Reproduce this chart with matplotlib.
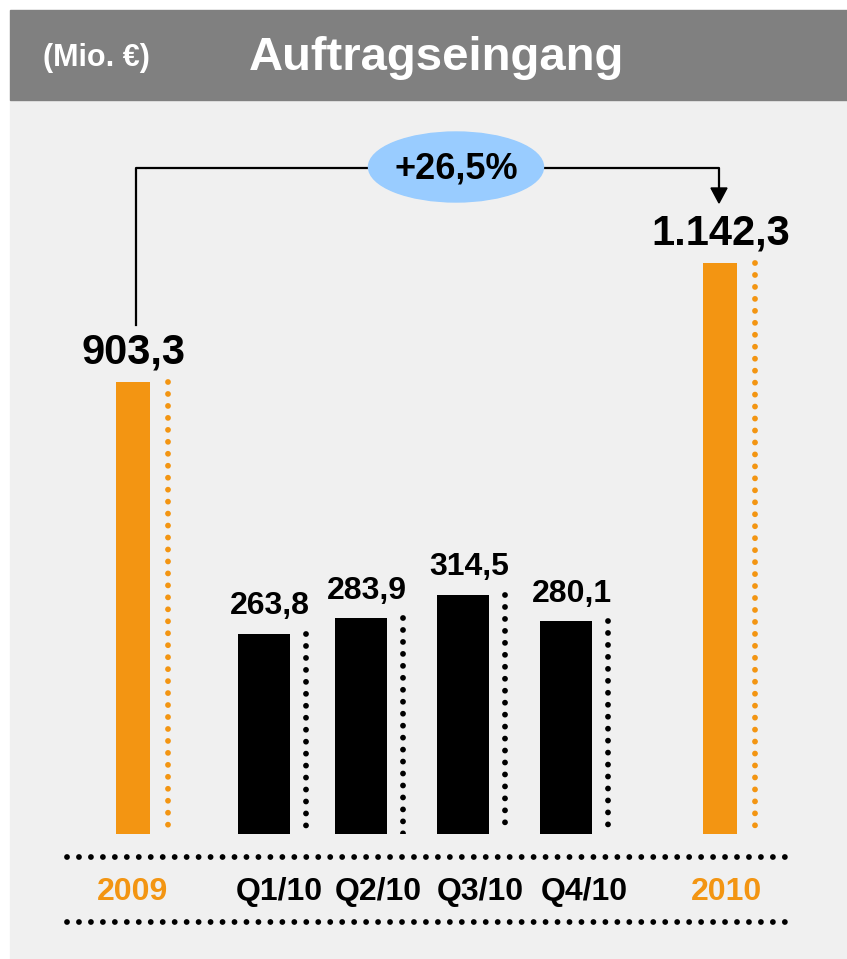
import matplotlib
matplotlib.use("Agg")
import matplotlib.pyplot as plt
from matplotlib.patches import Rectangle, Ellipse, Polygon

plt.rcParams['font.family'] = ['Liberation Sans', 'DejaVu Sans']

# ---- data ----
annual_labels = ["2009", "2010"]
annual_values = [903.3, 1142.3]
annual_texts = ["903,3", "1.142,3"]
quarter_labels = ["Q1/10", "Q2/10", "Q3/10", "Q4/10"]
quarter_values = [263.8, 283.9, 314.5, 280.1]
quarter_texts = ["263,8", "283,9", "314,5", "280,1"]
growth_text = "+26,5%"
title = "Auftragseingang"
unit = "(Mio. €)"

# ---- layout (pixel frame) ----
W, H = 847, 959
annual_x = [132.5, 720]
annual_w = 34
quarter_x = [264, 361, 463, 566]
quarter_w = 52
annual_dot_off = 35
quarter_dot_off = 42
annual_label_x = [133, 727]
quarter_label_x = [279, 378, 480, 584]
base_px = 834
top_px = 100
px_per_unit_annual = 0.5
px_per_unit_quarter = 0.76

ORANGE = '#f39512'
BG = '#f0f0f0'
HEADER = '#808080'

fig = plt.figure(figsize=(W / 100, H / 100), dpi=100)
fig.patch.set_facecolor('white')

bg = fig.add_axes([0, 0, 1, 1])
bg.set_xlim(0, W)
bg.set_ylim(H, 0)
bg.axis('off')
bg.add_patch(Rectangle((10, 100), W - 10, H - 100, color=BG, zorder=0))
bg.add_patch(Rectangle((10, 10), W - 10, 90, color=HEADER, zorder=0))
bg.text(96, 58, unit, color='white', fontsize=22, fontweight='bold',
        ha='center', va='center')
bg.text(437, 58, title, color='white', fontsize=34, fontweight='bold',
        ha='center', va='center')

ax_rect = [0, (H - base_px) / H, 1, (base_px - top_px) / H]
ax_a = fig.add_axes(ax_rect)
ax_q = fig.add_axes(ax_rect)
for ax, s in ((ax_a, px_per_unit_annual), (ax_q, px_per_unit_quarter)):
    ax.set_xlim(0, W)
    ax.set_ylim(0, (base_px - top_px) / s)
    ax.axis('off')
    ax.patch.set_alpha(0)

DOT_LW = 4.2
dot_ls = (0, (0.001, 2.05))

# annual bars
ax_a.bar(annual_x, annual_values, width=annual_w, color=ORANGE, zorder=3)
for x, v, t in zip(annual_x, annual_values, annual_texts):
    ax_a.plot([x + annual_dot_off, x + annual_dot_off], [v, 0], color=ORANGE,
              lw=DOT_LW, ls=dot_ls, dash_capstyle='round', zorder=3)
    ax_a.annotate(t, (x + 1, v), xytext=(0, 7), textcoords='offset points',
                  ha='center', va='bottom', fontsize=30, fontweight='bold')

# quarter bars
ax_q.bar(quarter_x, quarter_values, width=quarter_w, color='black', zorder=3)
for x, v, t in zip(quarter_x, quarter_values, quarter_texts):
    ax_q.plot([x + quarter_dot_off, x + quarter_dot_off], [v, 0], color='black',
              lw=DOT_LW, ls=dot_ls, dash_capstyle='round', zorder=3)
    ax_q.annotate(t, (x + 6, v), xytext=(0, 9), textcoords='offset points',
                  ha='center', va='bottom', fontsize=23, fontweight='bold')

# horizontal dotted rules
for y in (857, 922):
    bg.plot([67, 790], [y, y], color='black', lw=DOT_LW, ls=dot_ls,
            dash_capstyle='round', zorder=2)

# category labels
for x, t in zip(annual_label_x, annual_labels):
    bg.text(x, 892, t, color=ORANGE, fontsize=23, fontweight='bold',
            ha='center', va='center')
for x, t in zip(quarter_label_x, quarter_labels):
    bg.text(x, 892, t, color='black', fontsize=23, fontweight='bold',
            ha='center', va='center')

# growth bracket
bg.plot([136, 136, 368], [325, 168, 168], color='black', lw=1.6, zorder=2)
bg.plot([543, 719, 719], [168, 168, 190], color='black', lw=1.6, zorder=2)
bg.add_patch(Polygon([(711, 188), (727, 188), (719, 203)], closed=True,
                     color='black', zorder=3))
bg.add_patch(Ellipse((456, 167), 175, 70, color='#99ccff', zorder=3))
bg.text(456, 169, growth_text, fontsize=26, fontweight='bold',
        ha='center', va='center', zorder=4)

fig.savefig('out.png', dpi=100, facecolor=fig.get_facecolor())
